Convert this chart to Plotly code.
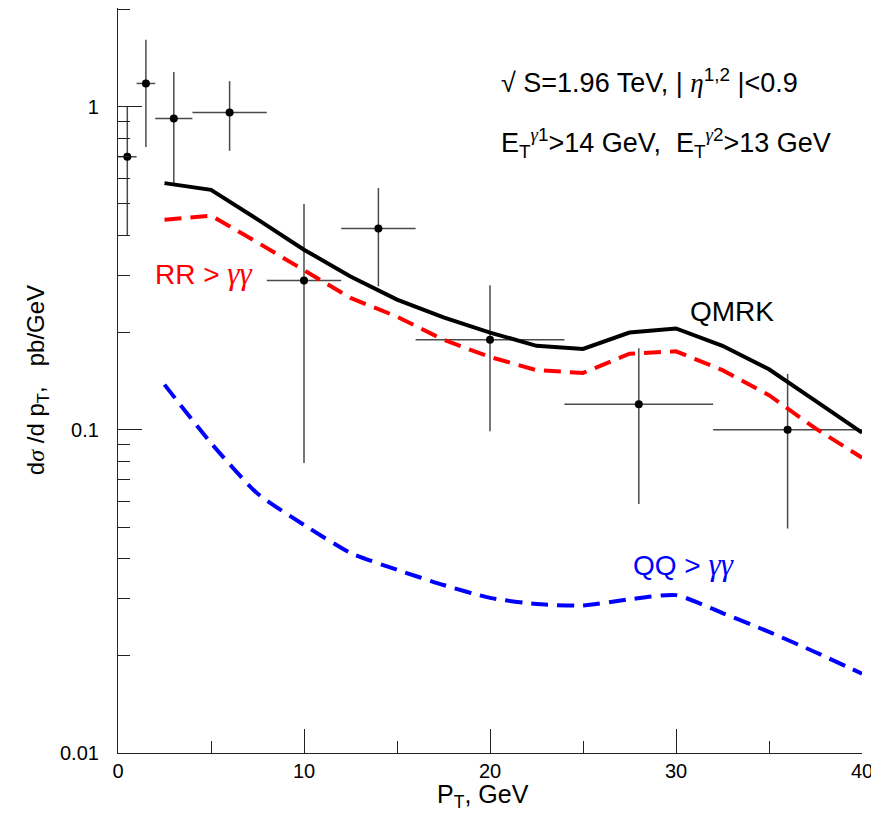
import plotly.graph_objects as go

# ---- data ----
curve_x = [2.5, 5, 7.5, 10, 12.5, 15, 17.5, 20, 22.5, 25, 27.5, 30, 32.5, 35, 37.5, 40]
qmrk_y = [0.58, 0.553, 0.448, 0.361, 0.298, 0.253, 0.223, 0.200, 0.182, 0.178, 0.200, 0.206, 0.182, 0.154, 0.123, 0.098]
rr_y = [0.447, 0.46, 0.38, 0.313, 0.256, 0.224, 0.19, 0.168, 0.153, 0.150, 0.172, 0.175, 0.153, 0.128, 0.101, 0.082]
qq_y = [0.138, 0.091, 0.0635, 0.0508, 0.0416, 0.0369, 0.0331, 0.0302, 0.0289, 0.0286, 0.0299, 0.0308, 0.0271, 0.0237, 0.0205, 0.0176]

pt_x = [0.5, 1.5, 3, 6, 10, 14, 20, 28, 36]
pt_y = [0.70, 1.18, 0.92, 0.96, 0.29, 0.42, 0.19, 0.12, 0.10]
pt_y_hi = [1.0, 1.61, 1.28, 1.20, 0.50, 0.56, 0.28, 0.179, 0.149]
pt_y_lo = [0.40, 0.75, 0.58, 0.73, 0.079, 0.278, 0.099, 0.059, 0.0495]
pt_x_lo = [0, 1, 2, 4, 8, 12, 16, 24, 32]
pt_x_hi = [1, 2, 4, 8, 12, 16, 24, 32, 40]

y_tickvals = [0.01, 0.1, 1]
y_ticktext = ["0.01", "0.1", "1"]
y_minor = [m * d for d in (0.01, 0.1) for m in range(2, 10)] + [2]
x_tickvals = [0, 10, 20, 30, 40]
x_minor = [5, 15, 25, 35]

FONT = "Liberation Sans, Arial, sans-serif"
SERIF = "Liberation Serif, Times New Roman, serif"

fig = go.Figure()

fig.add_trace(go.Scatter(
    x=pt_x, y=pt_y, mode="markers",
    marker=dict(color="black", size=8),
    error_y=dict(type="data", symmetric=False,
                 array=[h - v for h, v in zip(pt_y_hi, pt_y)],
                 arrayminus=[v - l for v, l in zip(pt_y, pt_y_lo)],
                 width=0, thickness=1.5, color="#4a4a4a"),
    error_x=dict(type="data", symmetric=False,
                 array=[h - v for h, v in zip(pt_x_hi, pt_x)],
                 arrayminus=[v - l for v, l in zip(pt_x, pt_x_lo)],
                 width=0, thickness=1.5, color="#4a4a4a"),
    showlegend=False))

fig.add_trace(go.Scatter(x=curve_x, y=qmrk_y, mode="lines",
                         line=dict(color="black", width=4), showlegend=False))
fig.add_trace(go.Scatter(x=curve_x, y=rr_y, mode="lines",
                         line=dict(color="#ff0000", width=4, dash="17px,9px"), showlegend=False))
fig.add_trace(go.Scatter(x=curve_x, y=qq_y, mode="lines",
                         line=dict(color="#0000ff", width=4, dash="17px,9px",
                                   shape="spline", smoothing=0.6), showlegend=False))

ann_font = dict(family=FONT, size=27, color="black")
GG = "<span style='font-family:%s;font-size:31px'><i>γγ</i></span>" % SERIF
annotations = [
    dict(x=20.5, y=0.0805, xref="x", yref="y", xanchor="left", yanchor="middle",
         text="√ S=1.96 TeV, | <span style='font-family:%s'><i>η</i></span><sup>1,2</sup> |&lt;0.9" % SERIF,
         showarrow=False, font=ann_font),
    dict(x=20.5, y=-0.111, xref="x", yref="y", xanchor="left", yanchor="middle",
         text="E<sub>T</sub><sup><span style='font-family:%s'><i>γ</i></span>1</sup>&gt;14 GeV,  E<sub>T</sub><sup><span style='font-family:%s'><i>γ</i></span>2</sup>&gt;13 GeV" % (SERIF, SERIF),
         showarrow=False, font=ann_font),
    dict(x=1.88, y=-0.517, xref="x", yref="y", xanchor="left", yanchor="middle",
         text="RR &gt; " + GG,
         showarrow=False, font=dict(family=FONT, size=28, color="#ff0000")),
    dict(x=30.65, y=-0.635, xref="x", yref="y", xanchor="left", yanchor="middle",
         text="QMRK", showarrow=False, font=dict(family=FONT, size=28, color="black")),
    dict(x=27.58, y=-1.418, xref="x", yref="y", xanchor="left", yanchor="middle",
         text="QQ &gt; " + GG,
         showarrow=False, font=dict(family=FONT, size=28, color="#0000ff")),
    dict(x=-0.108, y=0.5, xref="paper", yref="paper", xanchor="center", yanchor="middle",
         textangle=-90,
         text="d<span style='font-family:%s'><i>σ</i></span> /d p<sub>T</sub>,   pb/GeV" % SERIF,
         showarrow=False, font=dict(family=FONT, size=24, color="black")),
    dict(x=0.49, y=-0.058, xref="paper", yref="paper", xanchor="center", yanchor="middle",
         text="P<sub>T</sub>, GeV", showarrow=False,
         font=dict(family=FONT, size=25, color="black")),
]

# page body has an 8px margin: shrink the figure so the plot area lands where the reference has it
fig.update_layout(
    width=871, height=819,
    margin=dict(l=110, r=17, t=0, b=74, pad=0),
    plot_bgcolor="white", paper_bgcolor="white",
    annotations=annotations,
    font=dict(family=FONT, color="black"),
)

fig.update_xaxes(
    range=[0, 40], showgrid=False, zeroline=False,
    showline=True, linecolor="#222222", linewidth=1.2, mirror=False,
    ticks="inside", ticklen=24, tickwidth=1, tickcolor="#222222",
    tickmode="array", tickvals=x_tickvals,
    tickfont=dict(family=FONT, size=20, color="black"),
    minor=dict(ticks="inside", ticklen=12, tickwidth=1, tickcolor="#222222",
               tickmode="array", tickvals=x_minor, showgrid=False),
)
fig.update_yaxes(
    type="log", range=[-2, 0.3054], showgrid=False, zeroline=False,
    showline=True, linecolor="#222222", linewidth=1.2, mirror=False,
    ticks="inside", ticklen=24, tickwidth=1, tickcolor="#222222",
    tickmode="array", tickvals=y_tickvals, ticktext=y_ticktext,
    ticklabelstandoff=14,
    tickfont=dict(family=FONT, size=20, color="black"),
    minor=dict(ticks="inside", ticklen=12, tickwidth=1, tickcolor="#222222",
               tickmode="array", tickvals=y_minor, showgrid=False),
)

fig.write_html("out.html")
